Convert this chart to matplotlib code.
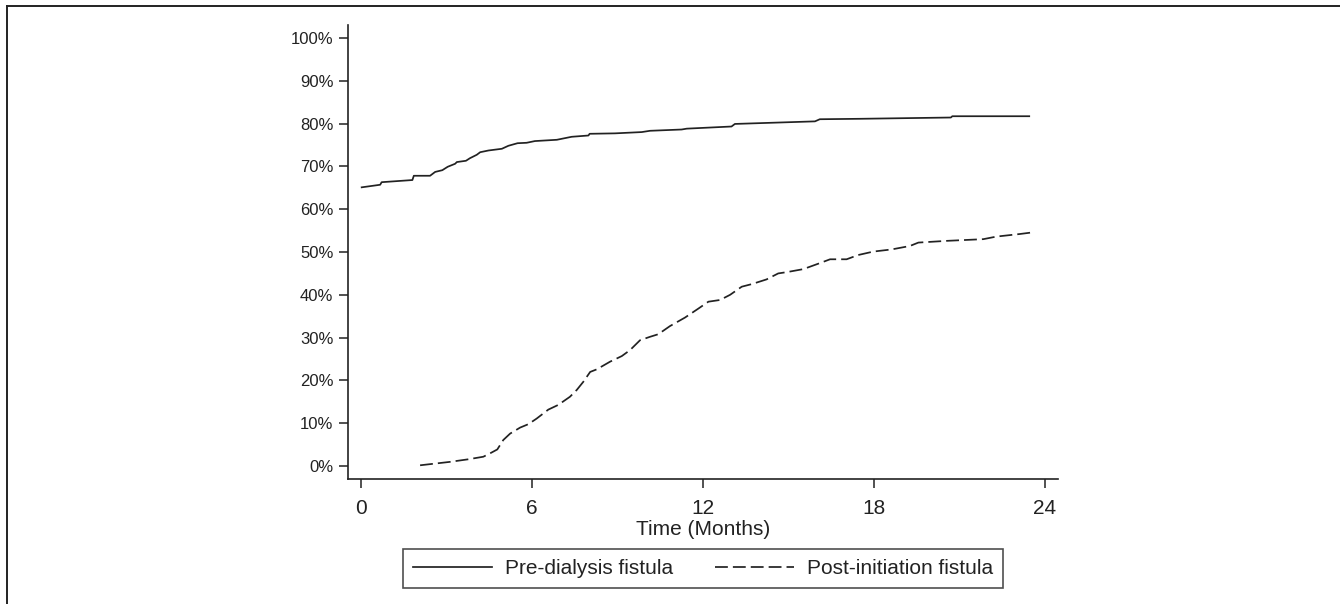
import numpy as np
import matplotlib
matplotlib.use("Agg")
import matplotlib.pyplot as plt
from matplotlib.lines import Line2D

plt.rcParams['font.family'] = ['Liberation Sans', 'DejaVu Sans']

# cumulative incidence (months, percent)
pre_t = [0.02, 0.67, 0.72, 1.80, 1.85, 2.42, 2.60, 2.85, 3.04, 3.30, 3.36, 3.68, 3.82,
         4.06, 4.18, 4.47, 4.94, 5.17, 5.49, 5.81, 6.10, 6.87, 7.39, 7.98, 8.02, 8.91,
         9.85, 10.14, 11.25, 11.43, 13.00, 13.12, 15.93, 16.10, 17.50, 20.70, 20.75, 23.45]
pre_y = [65.1, 65.7, 66.3, 66.8, 67.8, 67.8, 68.7, 69.1, 69.9, 70.6, 71.0, 71.3, 71.9,
         72.7, 73.3, 73.7, 74.1, 74.8, 75.4, 75.5, 75.9, 76.2, 76.9, 77.2, 77.6, 77.7,
         78.0, 78.3, 78.6, 78.8, 79.3, 79.9, 80.5, 81.0, 81.1, 81.4, 81.7, 81.7]

post_t = [2.07, 3.12, 3.76, 4.29, 4.53, 4.78, 4.99, 5.23, 5.58, 5.87, 6.16, 6.57, 6.92,
          7.33, 7.57, 7.80, 8.04, 8.27, 8.74, 9.15, 9.44, 9.79, 10.14, 10.43, 10.84,
          11.37, 11.84, 12.19, 12.60, 12.95, 13.36, 13.71, 14.23, 14.64, 14.94, 15.52,
          16.10, 16.46, 17.04, 17.45, 17.98, 18.62, 19.26, 19.56, 20.55, 21.84, 22.30,
          23.12, 23.59]
post_y = [0.2, 1.0, 1.6, 2.2, 3.0, 3.9, 6.1, 7.6, 9.0, 9.8, 11.1, 13.2, 14.3,
          16.2, 17.8, 19.7, 22.0, 22.6, 24.4, 25.7, 27.1, 29.4, 30.2, 30.8, 32.7,
          34.7, 36.8, 38.4, 38.8, 40.0, 41.9, 42.5, 43.6, 45.0, 45.3, 46.0,
          47.4, 48.3, 48.3, 49.3, 50.1, 50.6, 51.4, 52.2, 52.6, 53.0, 53.6,
          54.2, 54.6]

xticks = [0, 6, 12, 18, 24]
yticks = list(range(0, 101, 10))
labels = ["Pre-dialysis fistula", "Post-initiation fistula"]

ink = "#222222"

fig = plt.figure(figsize=(13.4, 6.04), dpi=100)
ax = fig.add_axes([348/1340, 1 - 479/604, 710/1340, 454/604])

ax.plot(pre_t, pre_y, color=ink, lw=1.25, label=labels[0])
ax.plot(post_t, post_y, color=ink, lw=1.25, dashes=(7.4, 2.9), label=labels[1])

ax.set_xlim(-0.46, 24.46)
ax.set_ylim(-3.0, 103.0)
ax.set_xticks(xticks)
ax.set_yticks(yticks)
ax.set_yticklabels([f"{v}%" for v in yticks])
ax.tick_params(axis='y', length=6.5, width=1.1, color=ink, labelsize=12, labelcolor=ink, pad=4)
ax.tick_params(axis='x', length=6.5, width=1.1, color=ink, labelsize=15, labelcolor=ink, pad=8)
ax.set_xlabel("Time (Months)", fontsize=15, color=ink, labelpad=1)

for s in ['top', 'right']:
    ax.spines[s].set_visible(False)
for s in ['left', 'bottom']:
    ax.spines[s].set_color(ink)
    ax.spines[s].set_linewidth(1.2)

leg = fig.legend(loc='center', bbox_to_anchor=(703/1340, 1 - 568.5/604), ncol=2,
                 fontsize=15, frameon=True, fancybox=False, edgecolor=ink,
                 handlelength=3.8, handletextpad=0.62, columnspacing=2.0,
                 borderpad=0.5, borderaxespad=0)
leg.get_frame().set_linewidth(1.2)
for t in leg.get_texts():
    t.set_color(ink)

# outer frame of the original figure (cropped at right and bottom)
fig.add_artist(Line2D([7/1340, 7/1340], [0, 1 - 6/604], transform=fig.transFigure, color=ink, lw=1.4))
fig.add_artist(Line2D([7/1340, 1], [1 - 6/604, 1 - 6/604], transform=fig.transFigure, color=ink, lw=1.4))

fig.savefig("out.png", dpi=100)
